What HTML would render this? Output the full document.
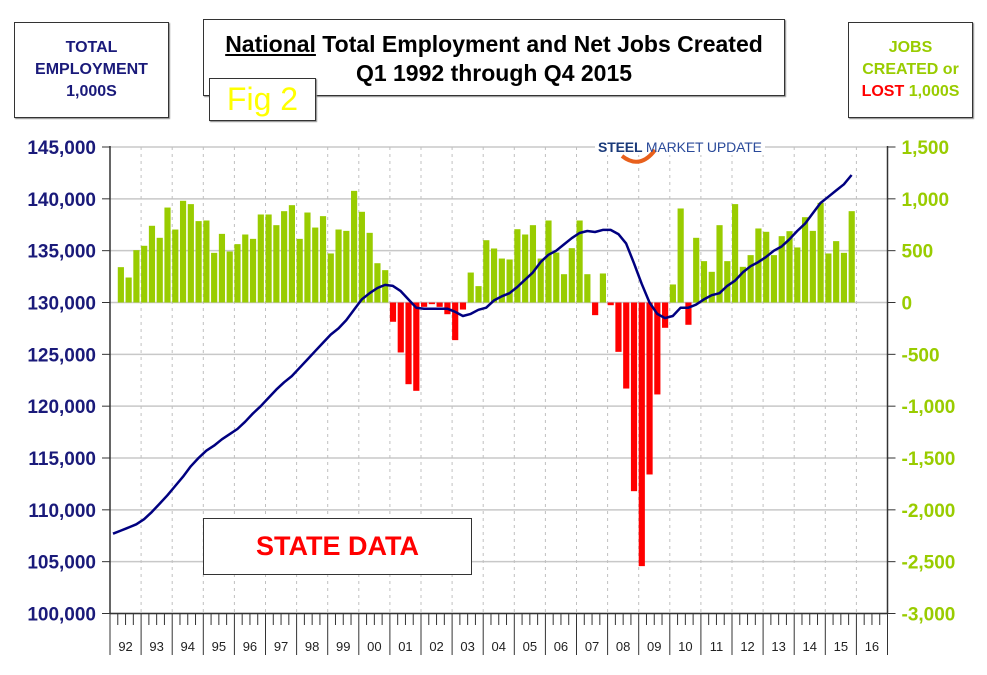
<!DOCTYPE html>
<html><head><meta charset="utf-8"><style>
body{margin:0;background:#fff;width:987px;height:675px;overflow:hidden;font-family:"Liberation Sans",sans-serif}
.box{position:absolute;border:1px solid #333;background:#fff;box-shadow:1px 1px 1px #888;text-align:center;font-weight:bold}
</style></head><body>
<div class="box" style="left:14px;top:22px;width:155px;height:96px;color:#1a1a7a;font-size:16px;line-height:22px;padding-top:14px;box-sizing:border-box">TOTAL<br>EMPLOYMENT<br>1,000S</div>
<div class="box" style="left:203px;top:19px;width:582px;height:77px;font-size:23px;line-height:29px;padding-top:10px;box-sizing:border-box"><span style="text-decoration:underline">National</span> Total Employment and Net Jobs Created<br>Q1 1992 through Q4 2015</div>
<div class="box" style="left:209px;top:78px;width:105px;height:41px;color:#ffff00;font-size:32px;line-height:41px;font-weight:normal">Fig 2</div>
<div class="box" style="left:848px;top:22px;width:125px;height:96px;color:#99cc00;font-size:16px;line-height:22px;padding-top:14px;box-sizing:border-box">JOBS<br>CREATED or<br><span style="color:#ff0000">LOST</span> 1,000S</div>
<svg id="chart" width="987" height="675" style="position:absolute;left:0;top:0"></svg>
<div class="box" style="left:203px;top:518px;width:267px;height:55px;color:#ff0000;font-size:27px;line-height:55px;box-shadow:none">STATE DATA</div>
<script>
const years=["92","93","94","95","96","97","98","99","00","01","02","03","04","05","06","07","08","09","10","11","12","13","14","15","16"];
const leftTicks=[100000,105000,110000,115000,120000,125000,130000,135000,140000,145000];
const rightTicks=[-3000,-2500,-2000,-1500,-1000,-500,0,500,1000,1500];
// Net jobs created, Q2 1992 .. Q4 2015 (thousands)
const jobs=[341,241,505,547,740,624,916,704,981,949,785,791,479,662,492,563,656,614,849,849,746,881,939,614,868,723,833,473,704,691,1077,875,672,379,312,
-186,-482,-788,-852,-42,-16,-42,-113,-363,-68,
289,158,601,521,424,415,707,656,746,424,791,482,273,524,791,273,-122,280,-26,-476,-830,-1820,-2543,-1659,-887,-244,
174,907,-215,624,399,296,746,399,949,344,457,714,682,457,640,688,531,823,691,961,473,592,479,881];
// Total employment, Q1 1992 .. Q4 2015 (thousands)
const employment=[107.7,108.0,108.3,108.6,109.1,109.8,110.6,111.4,112.3,113.2,114.2,115.0,115.7,116.2,116.8,117.3,117.8,118.5,119.3,120.0,120.8,121.6,122.3,122.9,123.7,124.5,125.3,126.1,126.9,127.5,128.3,129.3,130.3,130.9,131.4,131.7,131.6,131.1,130.3,129.5,129.4,129.4,129.4,129.4,129.1,128.7,128.9,129.3,129.5,130.2,130.6,130.9,131.5,132.2,132.9,133.9,134.6,135.0,135.6,136.2,136.7,136.9,136.8,137.0,137.0,136.6,135.7,133.8,131.8,130.0,128.9,128.5,128.7,129.5,129.5,129.8,130.3,130.7,130.9,131.6,132.1,132.9,133.5,133.9,134.4,135.0,135.4,136.1,136.9,137.6,138.6,139.6,140.2,140.8,141.4,142.3];

const svg=document.getElementById('chart');const NS='http://www.w3.org/2000/svg';
const X0=110,X1=887.5,TOP=147,BOT=613.5,Q=(X1-X0)/100;
const yL=v=>BOT-(v-100000)/45000*(BOT-TOP);
const yR=v=>BOT-(v+3000)/4500*(BOT-TOP);
function el(t,a,p){const e=document.createElementNS(NS,t);for(const k in a)e.setAttribute(k,a[k]);(p||svg).appendChild(e);return e;}
leftTicks.forEach((v,i)=>{
 const g=el('line',{x1:X0,x2:X1,y1:yL(v),y2:yL(v),stroke:'#c8c8c8','stroke-width':1.5});
 
 
 el('line',{x1:X0-8,x2:X0,y1:yL(v),y2:yL(v),stroke:'#333'});
 el('line',{x1:X1,x2:X1+8,y1:yL(v),y2:yL(v),stroke:'#333'});
 const t=el('text',{x:X0-14,y:yL(v)+7,'text-anchor':'end','font-size':19,'font-weight':'bold',fill:'#1a1a7a'});
 t.textContent=v.toLocaleString('en-US');
 
 
});
rightTicks.forEach(v=>{
 const t=el('text',{x:X1+14,y:yR(v)+7,'font-size':19,'font-weight':'bold',fill:'#99cc00'});
 t.textContent=v.toLocaleString('en-US');
 
 
});
years.forEach((y,i)=>{
 const x=X0+i*4*Q;
 if(i>0)el('line',{x1:x,x2:x,y1:TOP,y2:BOT,stroke:'#c0c0c0','stroke-dasharray':'3,4'});
 el('line',{x1:x,x2:x,y1:BOT,y2:655,stroke:'#333'});
 for(let q=1;q<4;q++)el('line',{x1:x+q*Q,x2:x+q*Q,y1:BOT,y2:625,stroke:'#333'});
 const t=el('text',{x:x+2*Q,y:651,'text-anchor':'middle','font-size':13,fill:'#222'});
 t.textContent=y;
 
 
});
el('line',{x1:X1,x2:X1,y1:BOT,y2:655,stroke:'#333'});
jobs.forEach((v,i)=>{
 const x=X0+(i+1)*Q;const y0=yR(0),y=yR(v);
 const r=el('rect',{x:x,y:Math.min(y0,y),width:Q-1.6,height:Math.abs(y-y0),fill:v>=0?'#99cc00':'#ff0000'});
 
 
});
el('line',{x1:X0,x2:X0,y1:TOP-1,y2:BOT,stroke:'#333','stroke-width':1.5});
el('line',{x1:X1,x2:X1,y1:TOP-1,y2:BOT,stroke:'#333','stroke-width':1.5});
el('line',{x1:X0,x2:X1,y1:BOT,y2:BOT,stroke:'#333','stroke-width':1.5});
const pts=employment.map((v,i)=>(X0+3+i*Q).toFixed(1)+','+yL(v*1000).toFixed(1)).join(' ');
const pl=el('polyline',{points:pts,fill:'none',stroke:'#000080','stroke-width':2.5,'stroke-linejoin':'round'});


el('rect',{x:595,y:137,width:170,height:18,fill:'#fff'});
el('path',{d:'M622 156 Q640 170 655 150',fill:'none',stroke:'#e8601c','stroke-width':4});
const lt=el('text',{x:598,y:152,'font-size':14,'font-weight':'bold',fill:'#1a3a7a',textLength:164});
lt.innerHTML='STEEL <tspan fill="#2a4a9a" font-weight="normal">MARKET UPDATE</tspan>';


</script>
</body></html>
